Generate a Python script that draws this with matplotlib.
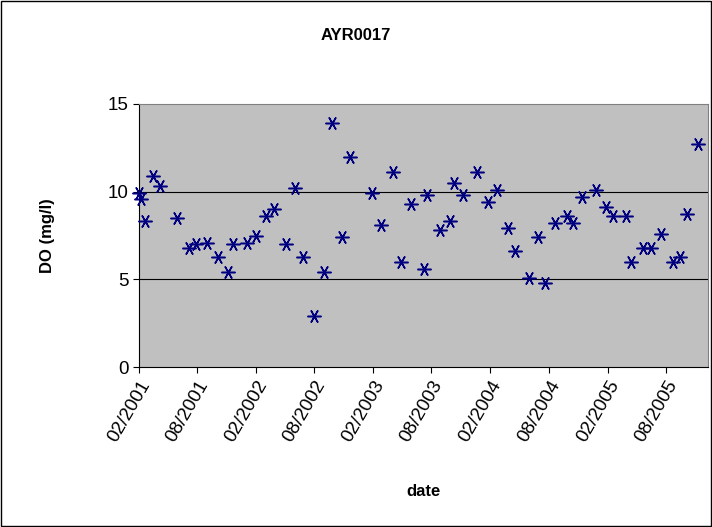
import matplotlib
matplotlib.use("Agg")
import matplotlib.pyplot as plt
import matplotlib.dates as mdates
import pandas as pd

plt.rcParams["font.family"] = ["Liberation Sans", "DejaVu Sans"]

dates = ["2001-02-01", "2001-02-07", "2001-02-20", "2001-03-17", "2001-04-07", "2001-05-30",
         "2001-07-07", "2001-07-28", "2001-08-31", "2001-10-05", "2001-11-05", "2001-11-20",
         "2002-01-03", "2002-01-31", "2002-03-03", "2002-03-28", "2002-05-04", "2002-06-01",
         "2002-06-26", "2002-07-30", "2002-09-02", "2002-09-24", "2002-10-25", "2002-11-22",
         "2003-01-27", "2003-02-24", "2003-04-05", "2003-04-27", "2003-05-28", "2003-07-10",
         "2003-07-17", "2003-08-29", "2003-09-29", "2003-10-09", "2003-11-09", "2003-12-22",
         "2004-01-25", "2004-02-22", "2004-03-28", "2004-04-18", "2004-06-01", "2004-06-29",
         "2004-07-21", "2004-08-21", "2004-09-27", "2004-10-16", "2004-11-13", "2004-12-26",
         "2005-01-26", "2005-02-17", "2005-03-30", "2005-04-14", "2005-05-22", "2005-06-15",
         "2005-07-17", "2005-08-23", "2005-09-14", "2005-10-05", "2005-11-09"]
do_values = [9.9, 9.6, 8.3, 10.9, 10.3, 8.5, 6.8, 7.0, 7.1, 6.3, 5.4, 7.0,
             7.1, 7.5, 8.6, 9.0, 7.0, 10.2, 6.3, 2.9, 5.4, 13.9, 7.4, 12.0,
             9.9, 8.1, 11.1, 6.0, 9.3, 5.6, 9.8, 7.8, 8.3, 10.5, 9.8, 11.1,
             9.4, 10.1, 7.9, 6.6, 5.1, 7.4, 4.8, 8.2, 8.6, 8.2, 9.7, 10.1,
             9.1, 8.6, 8.6, 6.0, 6.8, 6.8, 7.6, 6.0, 6.3, 8.7, 12.7]
tick_dates = pd.date_range("2001-02-01", "2005-08-01", freq="6MS")

x = pd.to_datetime(dates)
fig = plt.figure(figsize=(7.12, 5.27), dpi=100)
ax = fig.add_axes([139/712, 1-367/527, (708-139)/712, (367-104)/527])
ax.set_facecolor("#c0c0c0")
for v in [5, 10]:
    ax.axhline(v, color="black", lw=0.8, zorder=1)
ax.plot(x, do_values, linestyle="none", marker=(6, 2, 90), markersize=10,
        markeredgewidth=1.1, color="#000080", zorder=3, clip_on=False)
ax.set_ylim(0, 15)
ax.set_yticks([0, 5, 10, 15])
ax.set_xlim(pd.Timestamp("2001-02-01"), pd.Timestamp("2005-12-10"))
ax.set_xticks(tick_dates)
ax.xaxis.set_major_formatter(mdates.DateFormatter("%m/%Y"))
plt.setp(ax.get_xticklabels(), rotation=60, ha="right", rotation_mode="anchor")
ax.tick_params(labelsize=13.5, direction="out", length=4)
for s in ["top", "right"]:
    ax.spines[s].set_color("#808080")
ax.set_xlabel("date", fontsize=12, fontweight="bold", labelpad=28)
ax.set_ylabel("DO (mg/l)", fontsize=12, fontweight="bold", labelpad=38)
fig.text(0.5, 1 - 35 / 527, "AYR0017", ha="center", va="center",
         fontsize=12, fontweight="bold")
fig.patches.append(plt.Rectangle((0.002, 0.002), 0.996, 0.996, transform=fig.transFigure,
                                 fill=False, edgecolor="black", lw=1))
fig.savefig("out.png", dpi=100)
